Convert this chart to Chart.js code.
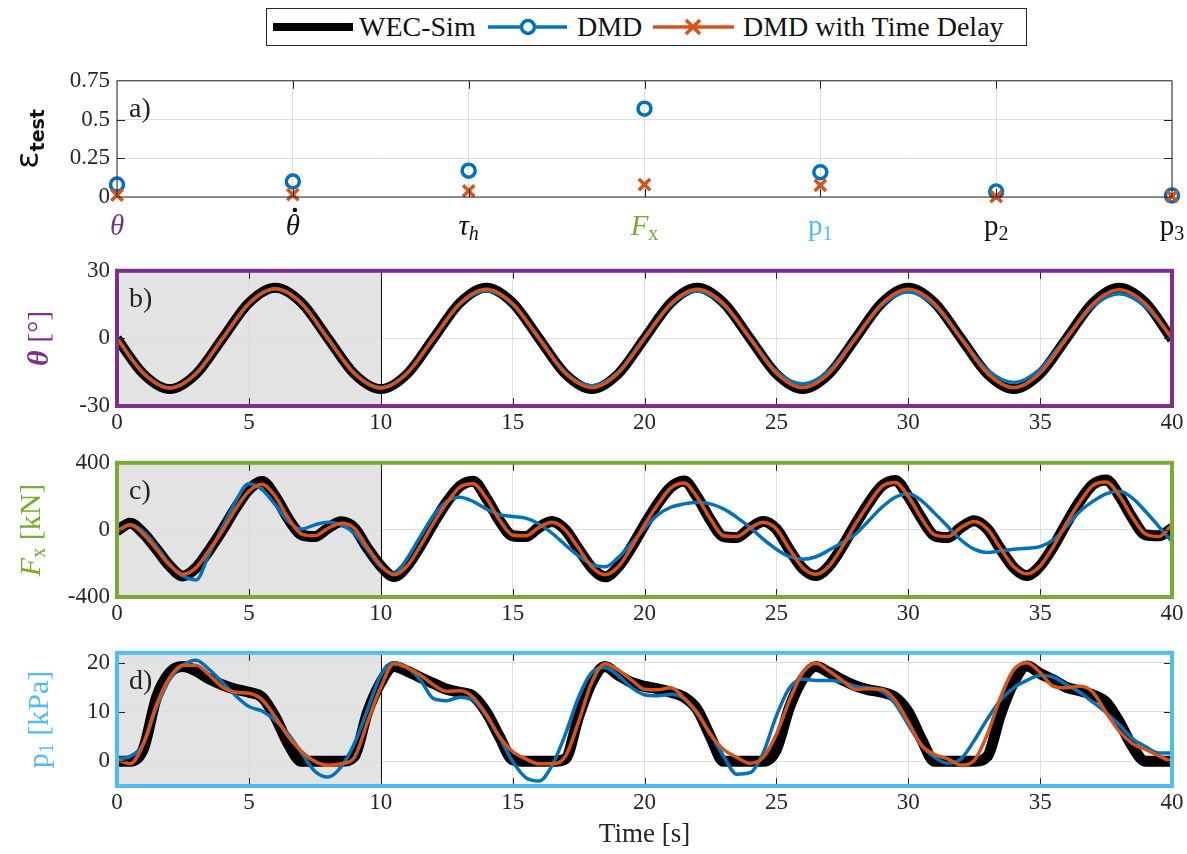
<!DOCTYPE html>
<html>
<head>
<meta charset="utf-8">
<script src="https://cdn.jsdelivr.net/npm/chart.js@4.4.1/dist/chart.umd.min.js"></script>
<style>
body{margin:0;background:#fff;width:1187px;height:854px;position:relative;overflow:hidden;font-family:"Liberation Serif",serif}
canvas.pane{position:absolute;left:0}
#legend{position:absolute;left:266px;top:8px;width:761px;height:38px;border:1.5px solid #262626;box-sizing:border-box;background:#fff}
#legend span{position:absolute;top:0;line-height:36px;font-size:28px;color:#111;white-space:nowrap}
#legend svg{position:absolute;left:0;top:0}
</style>
</head>
<body>
<div id="legend">
  <svg width="761" height="36">
    <line x1="6" y1="18" x2="86" y2="18" stroke="#000" stroke-width="8"/>
    <line x1="221" y1="18" x2="300" y2="18" stroke="#0072BD" stroke-width="3.5"/>
    <circle cx="261" cy="18" r="6.5" stroke="#0072BD" stroke-width="3.5" fill="#fff"/>
    <line x1="386" y1="18" x2="467" y2="18" stroke="#D95319" stroke-width="3.5"/>
    <path d="M419 11 L433 25 M433 11 L419 25" stroke="#D95319" stroke-width="3.5"/>
  </svg>
  <span style="left:92px">WEC-Sim</span>
  <span style="left:310px">DMD</span>
  <span style="left:476px">DMD with Time Delay</span>
</div>
<canvas class="pane" id="pa" width="1187" height="200" style="top:60px"></canvas>
<canvas class="pane" id="pb" width="1187" height="180" style="top:250px"></canvas>
<canvas class="pane" id="pc" width="1187" height="180" style="top:442px"></canvas>
<canvas class="pane" id="pd" width="1187" height="222" style="top:632px"></canvas>
<script>
// ---- panel a: test error per state
var categories = ['θ', 'θ\u0307', 'τ_h', 'F_x', 'p_1', 'p_2', 'p_3'];
var errDMD = [0.08, 0.1, 0.17, 0.57, 0.16, 0.035, 0.01];
var errTD  = [0.012, 0.015, 0.04, 0.08, 0.075, 0.002, 0.005];
var errTicks = [0, 0.25, 0.5, 0.75];

// ---- time axes
var timeTicks = [0, 5, 10, 15, 20, 25, 30, 35, 40];
var trainEnd = 10;
var tCoarse = [0,1,2,3,4,5,6,7,8,9,10,11,12,13,14,15,16,17,18,19,20,
               21,22,23,24,25,26,27,28,29,30,31,32,33,34,35,36,37,38,39,40];
var tFine = [0,0.5,1,1.5,2,2.5,3,3.5,4,4.5,
             5,5.5,6,6.5,7,7.5,8,8.5,9,9.5,
             10,10.5,11,11.5,12,12.5,13,13.5,14,14.5,
             15,15.5,16,16.5,17,17.5,18,18.5,19,19.5,
             20,20.5,21,21.5,22,22.5,23,23.5,24,24.5,
             25,25.5,26,26.5,27,27.5,28,28.5,29,29.5,
             30,30.5,31,31.5,32,32.5,33,33.5,34,34.5,
             35,35.5,36,36.5,37,37.5,38,38.5,39,39.5,40];

// ---- panel b: theta [deg], 1 s samples
var thetaTicks = [-30, 0, 30];
var thetaSim = [0,-15.8,-22.5,-15.8,0,15.8,22.5,15.8,0,-15.8,-22.5,-15.8,0,15.8,22.5,15.8,0,-15.8,-22.5,-15.8,
                0,15.8,22.5,15.8,0,-15.8,-22.5,-15.8,0,15.8,22.5,15.8,0,-15.8,-22.5,-15.8,0,15.8,22.5,15.8,-0.5];
var thetaTD  = [0,-15.5,-22,-15.6,0,15.5,22,15.5,-0.2,-15.6,-22,-15.5,0,15.5,21.8,15.4,0,-15.5,-21.8,-15.4,
                0,15.4,21.8,15.4,0,-15.4,-21.8,-15.4,0,15.4,21.8,15.4,0,-15.4,-21.8,-15.3,0,15.3,21.6,15.3,0];
var thetaDMD = [0,-15.4,-22,-15.6,-0.2,15.4,22,15.5,0,-15.4,-21.8,-15.4,0.2,15.2,21.2,15.2,0.2,-15.1,-21,-14.9,
                0.4,15,21,14.8,0.2,-14.6,-20.2,-14.3,0.4,14.8,20.6,14.5,0.2,-14,-19.6,-13.6,0.6,14.2,19.8,14,0.5];

// ---- panel c: Fx [kN], 0.5 s samples
var fxTicks = [-400, 0, 400];
var fxSim = [-5,40,-20,-115,-215,-275,-225,-120,0,130,
             240,288,200,65,-30,-40,10,48,10,-110,
             -215,-278,-215,-95,40,165,260,290,190,55,
             -35,-40,15,50,0,-115,-225,-280,-220,-105,
             30,155,255,292,195,60,-40,-45,10,50,
             5,-120,-230,-272,-215,-100,35,160,262,295,
             200,70,-35,-45,15,55,5,-115,-225,-272,
             -215,-100,40,170,270,298,205,70,-30,-35,10];
var fxTD  = [-10,30,-25,-115,-210,-265,-225,-120,-5,125,
             230,272,200,70,-25,-35,10,40,10,-105,
             -210,-268,-215,-95,40,160,255,275,190,60,
             -30,-35,15,45,0,-110,-220,-268,-220,-105,
             30,150,250,280,195,65,-35,-40,10,45,
             5,-115,-225,-265,-215,-100,35,155,258,282,
             200,70,-30,-40,15,50,5,-110,-220,-262,
             -215,-100,40,165,265,285,205,75,-25,-40,30];
var fxDMD = [-5,30,-10,-100,-205,-275,-298,-140,15,170,
             275,240,150,50,5,30,45,30,-20,-120,
             -220,-260,-170,-40,85,170,195,170,125,90,
             80,70,35,-20,-90,-155,-205,-220,-165,-80,
             10,90,135,155,165,155,125,75,15,-55,
             -115,-160,-175,-160,-120,-75,-25,55,135,195,
             215,175,100,20,-60,-115,-135,-125,-115,-110,
             -100,-60,20,110,170,215,230,190,110,20,-70];

// ---- panel d: p1 [kPa], 0.5 s samples
var p1Ticks = [0, 10, 20];
var p1Sim = [0,0,2.5,13,18,19.2,18.3,16.7,15.5,14.6,
             14,13,9,3.5,0,0,0,0,1,10,
             16,19.2,18.3,17,15.8,14.6,14,13.2,10,5,
             0.3,0,0,0,0.5,9,16,19.2,17.5,16,
             15.2,14.7,14,13,10.5,5,0,0,0,0,
             2.4,11,16.7,19.2,18,16.5,15.3,14.5,14,13,
             10,4.5,0,0,0,0,1,9.5,16,19.3,
             17.8,16.5,15,14.3,13.5,12,8,3,0,0,0];
var p1TD  = [0.3,-0.5,3.5,11.5,17,19.5,19.5,17.5,15,14,
             13.8,12.5,9,5,2,0,-0.8,-0.5,0.8,8,
             15,19.8,19,17.5,15.5,14.2,14.3,13,9.5,5,
             2,0.5,-0.5,-0.5,1,8,16,19.8,18.5,16.5,
             14.6,14.5,14.9,12.8,9.9,5.5,2.4,0.8,-0.4,0.8,
             5.5,12.4,18,19.9,18.3,16.4,14.6,14.7,14.6,12.4,
             8,3.3,1.4,0.5,-0.75,0.2,5.5,13,18.6,20,
             18,15.2,14.9,15.2,14,9.9,6.1,3.6,2.4,1.1,-0.1];
var p1DMD = [0.5,1,3.6,11,16.7,19.5,20.5,18.6,16,13.3,
             11.1,10.2,8.3,5.5,1.7,-2,-3.2,-1.1,3.6,10.5,
             17.4,20,19,16.5,12.7,12.3,13,12.4,9.3,4.9,
             0,-3.3,-4,-0.8,5.5,13,18,19,17.4,15,
             13.5,13.3,13.6,12.7,9.6,5.5,1,-2.6,-2.3,1.7,
             9.2,14.9,16.7,16.4,16.4,16.1,15.2,14.9,14.2,11.7,
             7.4,3.3,0.8,-0.4,0.5,4.2,8.6,12.4,14.9,16.4,
             17.4,17.1,15.5,14,12,9.9,7.4,4.6,3,1.7,1.7];

var BLUE = '#0072BD', ORANGE = '#D95319';
var PURPLE = '#7E2F8E', GREEN = '#77AC30', SKY = '#4DBEEE';
var GRID = '#dedede';
var SERIF = 'Liberation Serif';

Chart.defaults.font.family = SERIF;
Chart.defaults.font.size = 23;

function tickFont(){ return {family: SERIF, size: 23, weight: 'normal'}; }

function pts(t, v){
    return t.map(function(x, i){ return {x: x, y: v[i]}; });
}

// rich text helper (subscripts), optionally rotated
function drawRich(ctx, parts, cx, cy, color, rotate){
    ctx.save();
    ctx.translate(cx, cy);
    if(rotate) ctx.rotate(-Math.PI/2);
    ctx.fillStyle = color;
    ctx.textBaseline = 'middle';
    ctx.textAlign = 'left';
    var w = 0;
    parts.forEach(function(p){ ctx.font = p.font; w += ctx.measureText(p.text).width; });
    var x = -w/2;
    parts.forEach(function(p){
        ctx.font = p.font;
        ctx.fillText(p.text, x, p.dy || 0);
        x += ctx.measureText(p.text).width;
    });
    ctx.restore();
}

// matlab-like frame: shaded training window, inward ticks, coloured box, letter, y title
function makeFrame(cfg){
    return {
        id: 'frame',
        beforeDraw: function(chart){
            if(cfg.shade == null) return;
            var a = chart.chartArea, ctx = chart.ctx, sx = chart.scales.x;
            var x0 = sx.getPixelForValue(0), x1 = sx.getPixelForValue(cfg.shade);
            ctx.save();
            ctx.fillStyle = '#e3e3e3';
            ctx.fillRect(x0, a.top, x1 - x0, a.bottom - a.top);
            ctx.restore();
        },
        beforeDatasetsDraw: function(chart){
            if(cfg.shade == null) return;
            var a = chart.chartArea, ctx = chart.ctx;
            var px = Math.round(chart.scales.x.getPixelForValue(cfg.shade)) + 0.5;
            ctx.save();
            ctx.strokeStyle = '#111';
            ctx.lineWidth = 1;
            ctx.beginPath(); ctx.moveTo(px, a.top); ctx.lineTo(px, a.bottom); ctx.stroke();
            ctx.restore();
        },
        afterDraw: function(chart){
            var a = chart.chartArea, ctx = chart.ctx, sx = chart.scales.x, sy = chart.scales.y;
            ctx.save();
            ctx.strokeStyle = '#262626';
            ctx.lineWidth = 1;
            ctx.beginPath();
            sx.ticks.forEach(function(t, i){
                var px = Math.round(sx.getPixelForTick(i)) + 0.5;
                if(px < a.left + 3 || px > a.right - 3) return;
                ctx.moveTo(px, a.top); ctx.lineTo(px, a.top + 8);
                ctx.moveTo(px, a.bottom); ctx.lineTo(px, a.bottom - 8);
            });
            sy.ticks.forEach(function(t, i){
                var py = Math.round(sy.getPixelForTick(i)) + 0.5;
                if(py < a.top + 3 || py > a.bottom - 3) return;
                ctx.moveTo(a.left, py); ctx.lineTo(a.left + 8, py);
                ctx.moveTo(a.right, py); ctx.lineTo(a.right - 8, py);
            });
            ctx.stroke();
            ctx.strokeStyle = cfg.boxColor;
            ctx.lineWidth = cfg.boxWidth;
            ctx.strokeRect(a.left, a.top, a.right - a.left, a.bottom - a.top);
            ctx.fillStyle = '#222';
            ctx.font = '28px "Liberation Serif"';
            ctx.textBaseline = 'middle';
            ctx.fillText(cfg.letter, a.left + 12, a.top + 29);
            ctx.restore();
            drawRich(ctx, cfg.yTitle, cfg.titleX, (a.top + a.bottom)/2, cfg.titleColor, true);
            if(cfg.extra) cfg.extra(chart);
        }
    };
}

function yScale(min, max, ticks){
    return {
        type: 'linear', min: min, max: max,
        afterBuildTicks: function(s){ s.ticks = ticks.map(function(v){ return {value: v}; }); },
        afterFit: function(s){ s.width = 117; },
        grid: {color: GRID, lineWidth: 1, drawTicks: false},
        border: {display: false},
        ticks: {font: tickFont(), color: '#262626', padding: 7, callback: function(v){ return String(v); }}
    };
}

function timeScale(h, title){
    return {
        type: 'linear', min: 0, max: 40,
        afterBuildTicks: function(s){ s.ticks = timeTicks.map(function(v){ return {value: v}; }); },
        afterFit: function(s){ s.height = h; },
        grid: {color: GRID, lineWidth: 1, drawTicks: false},
        border: {display: false},
        ticks: {font: tickFont(), color: '#262626', padding: 3, maxRotation: 0, callback: function(v){ return String(v); }},
        title: title ? {display: true, text: title, font: {family: SERIF, size: 27}, color: '#262626', padding: {top: 0, bottom: 3}} : {display: false}
    };
}

function lineSets(t, sim, dmd, td, simW){
    return [
        {label: 'DMD with Time Delay', data: pts(t, td), borderColor: ORANGE, borderWidth: 3.5, order: 0},
        {label: 'DMD', data: pts(t, dmd), borderColor: BLUE, borderWidth: 3.5, order: 1},
        {label: 'WEC-Sim', data: pts(t, sim), borderColor: '#000', borderWidth: simW, order: 2}
    ].map(function(d){
        d.pointRadius = 0; d.fill = false; d.cubicInterpolationMode = 'monotone';
        return d;
    });
}

var base = {
    responsive: false, animation: false, events: [],
    plugins: {legend: {display: false}, tooltip: {enabled: false}}
};

function opts(pad, scales){
    return Object.assign({}, base, {layout: {padding: {left: 0, right: 15, top: pad, bottom: 0}}, scales: scales});
}

// panel a
var catColors = [PURPLE, '#111', '#111', GREEN, SKY, '#111', '#111'];
new Chart(document.getElementById('pa'), {
    type: 'line',
    data: {
        labels: categories,
        datasets: [
            {label: 'DMD with Time Delay', data: errTD, showLine: false, pointStyle: 'crossRot', pointRadius: 8,
             pointBorderWidth: 3.5, borderColor: ORANGE, pointBorderColor: ORANGE, order: 0, clip: false},
            {label: 'DMD', data: errDMD, showLine: false, pointStyle: 'circle', pointRadius: 6.5,
             pointBorderWidth: 3.5, borderColor: BLUE, pointBorderColor: BLUE, pointBackgroundColor: 'rgba(0,0,0,0)', order: 1, clip: false}
        ]
    },
    options: opts(14, {
        x: {type: 'category', offset: false,
            afterFit: function(s){ s.height = 63; },
            grid: {color: GRID, drawTicks: false, offset: false}, border: {display: false},
            ticks: {display: false}},
        y: yScale(0, 0.75, errTicks)
    }),
    plugins: [makeFrame({
        letter: 'a)', boxColor: '#262626', boxWidth: 1, titleX: 30, titleColor: '#111',
        yTitle: [{text: 'ε', font: '32px "DejaVu Sans"'}, {text: 'test', font: 'bold 19px "DejaVu Sans"', dy: 9}],
        extra: function(chart){
            var ctx = chart.ctx, sx = chart.scales.x, y = chart.chartArea.bottom + 30;
            categories.forEach(function(c, i){
                var dotted = c.indexOf('\u0307') >= 0;
                var p = c.replace('\u0307', '').split('_');
                var italic = p[0] !== 'p';
                var parts = [{text: p[0], font: (italic ? 'italic ' : '') + '29px "Liberation Serif"'}];
                if(p[1]) parts.push({text: p[1], font: (p[1] === 'h' ? 'italic ' : '') + '20px "Liberation Serif"', dy: 8});
                var cx = sx.getPixelForValue(i);
                drawRich(ctx, parts, cx, y, catColors[i], false);
                if(dotted){
                    ctx.save();
                    ctx.fillStyle = catColors[i];
                    ctx.beginPath(); ctx.arc(cx + 2, y - 17, 2.3, 0, 2*Math.PI); ctx.fill();
                    ctx.restore();
                }
            });
        }
    })]
});

// panel b
new Chart(document.getElementById('pb'), {
    type: 'line',
    data: {datasets: lineSets(tCoarse, thetaSim, thetaDMD, thetaTD, 10)},
    options: opts(13, {x: timeScale(24), y: yScale(-30, 30, thetaTicks)}),
    plugins: [makeFrame({
        letter: 'b)', shade: trainEnd, boxColor: PURPLE, boxWidth: 4, titleX: 40, titleColor: PURPLE,
        yTitle: [{text: 'θ', font: 'italic bold 30px "Liberation Serif"'}, {text: ' [°]', font: '30px "Liberation Serif"'}]
    })]
});

// panel c
new Chart(document.getElementById('pc'), {
    type: 'line',
    data: {datasets: lineSets(tFine, fxSim, fxDMD, fxTD, 11)},
    options: opts(13, {x: timeScale(25), y: yScale(-400, 400, fxTicks)}),
    plugins: [makeFrame({
        letter: 'c)', shade: trainEnd, boxColor: GREEN, boxWidth: 4, titleX: 32, titleColor: GREEN,
        yTitle: [{text: 'F', font: 'italic 30px "Liberation Serif"'}, {text: 'x', font: '20px "Liberation Serif"', dy: 8},
                 {text: ' [kN]', font: '30px "Liberation Serif"'}]
    })]
});

// panel d
new Chart(document.getElementById('pd'), {
    type: 'line',
    data: {datasets: lineSets(tFine, p1Sim, p1DMD, p1TD, 11)},
    options: opts(13, {x: timeScale(68, 'Time [s]'), y: yScale(-5, 22, p1Ticks)}),
    plugins: [makeFrame({
        letter: 'd)', shade: trainEnd, boxColor: SKY, boxWidth: 4, titleX: 40, titleColor: SKY,
        yTitle: [{text: 'p', font: '30px "Liberation Serif"'}, {text: '1', font: '20px "Liberation Serif"', dy: 8},
                 {text: ' [kPa]', font: '30px "Liberation Serif"'}]
    })]
});
</script>
</body>
</html>
